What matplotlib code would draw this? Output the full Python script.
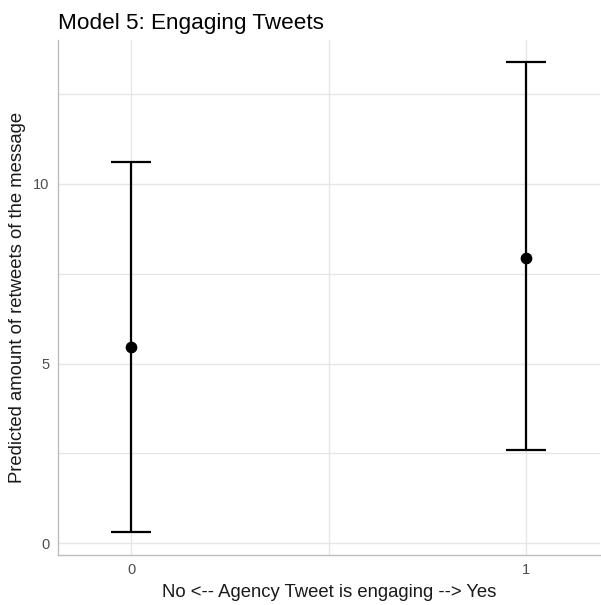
import matplotlib.pyplot as plt

plt.rcParams["font.family"] = ["Liberation Sans", "DejaVu Sans"]

# Predicted retweets with confidence interval
engaging = [0, 1]
predicted = [5.45, 7.95]
ci_low = [0.3, 2.6]
ci_high = [10.6, 13.4]

x_ticks = [0, 1]
y_ticks = [0, 5, 10]


def main() -> None:
    fig = plt.figure(figsize=(6.01, 6.05), dpi=100)
    ax = fig.add_axes([0.0965, 0.0826, 0.9015, 0.851])

    # ошибки: вертикальная линия + засечки
    for x, y, lo, hi in zip(engaging, predicted, ci_low, ci_high):
        ax.plot([x, x], [lo, hi], color="black", lw=1.6, zorder=3,
                solid_capstyle="butt")
        for v in (lo, hi):
            ax.plot([x - 0.05, x + 0.05], [v, v], color="black", lw=1.6,
                    zorder=3, solid_capstyle="butt")
    ax.scatter(engaging, predicted, s=55, color="black", zorder=4)

    ax.set_xlim(-0.185, 1.187)
    ax.set_ylim(-0.33, 14.0)
    ax.set_xticks(x_ticks)
    ax.set_yticks(y_ticks)
    ax.set_xticks([0.5], minor=True)
    ax.set_yticks([2.5, 7.5, 12.5], minor=True)
    ax.grid(True, which="both", color="#e6e6e6", lw=1.0)
    ax.set_axisbelow(True)

    for side in ("top", "right"):
        ax.spines[side].set_visible(False)
    for side in ("left", "bottom"):
        ax.spines[side].set_color("#bdbdbd")
        ax.spines[side].set_linewidth(1.0)

    ax.tick_params(which="both", length=0, labelsize=10.5, labelcolor="#4d4d4d")
    ax.tick_params(axis="x", pad=6)
    ax.tick_params(axis="y", pad=6)

    ax.set_xlabel("No <-- Agency Tweet is engaging --> Yes", fontsize=13.3,
                  color="#1a1a1a", labelpad=5)
    ax.set_ylabel("Predicted amount of retweets of the message", fontsize=13.3,
                  color="#1a1a1a", labelpad=5)
    ax.set_title("Model 5: Engaging Tweets", fontsize=16.2, loc="left",
                 color="black", pad=8, x=0.0)

    fig.savefig("out.png", dpi=100)


if __name__ == "__main__":
    main()
